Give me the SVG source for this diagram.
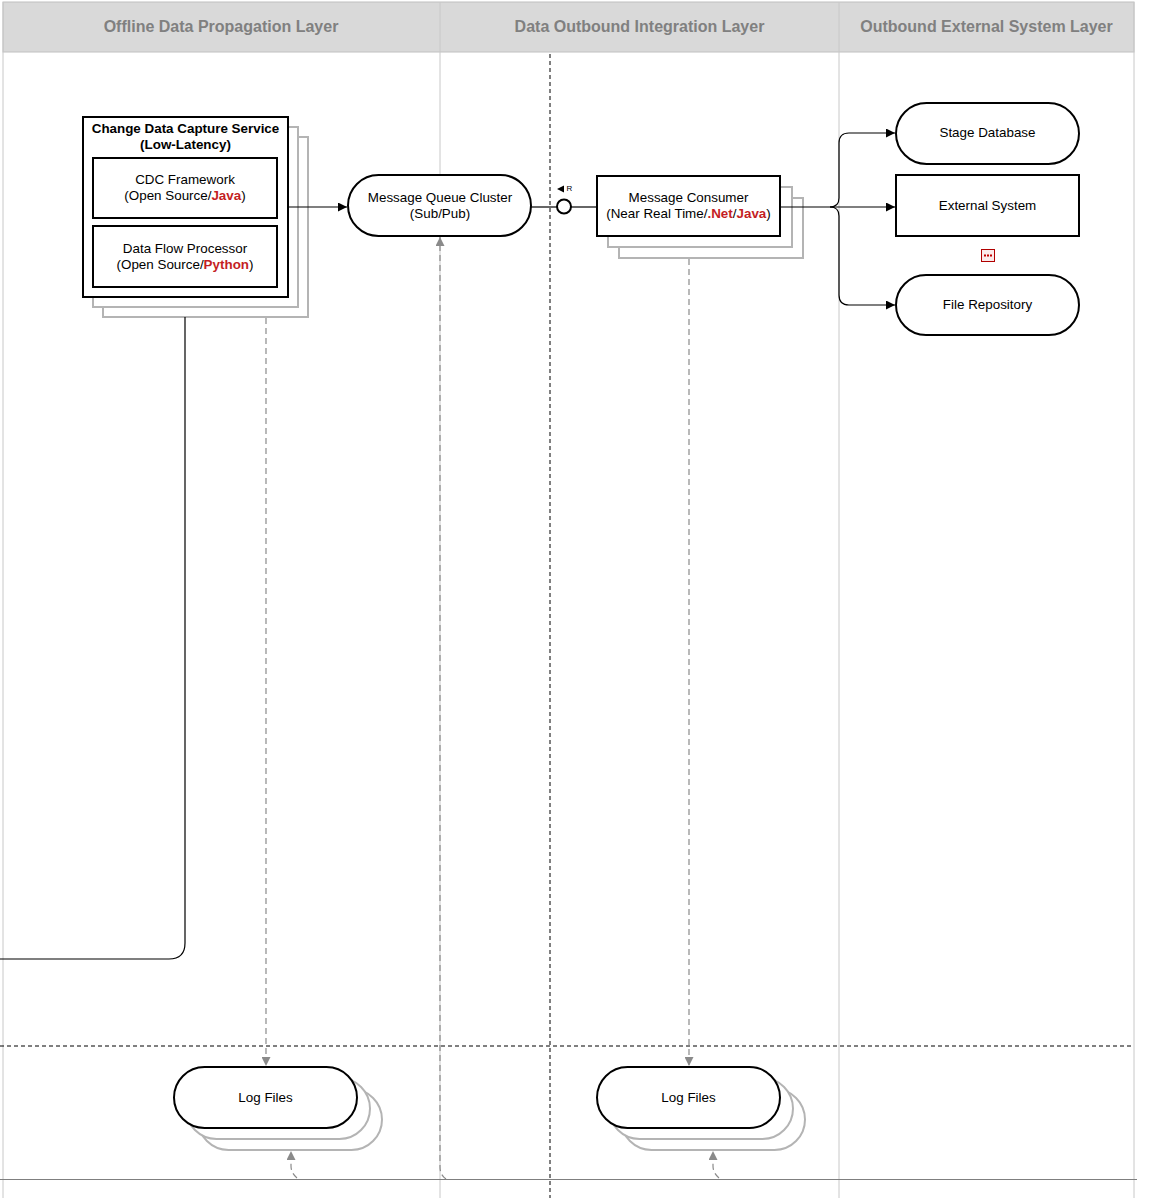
<svg xmlns="http://www.w3.org/2000/svg" width="1154" height="1198" viewBox="0 0 1154 1198">
<style>
text{font-family:"Liberation Sans",Arial,sans-serif;font-size:13.4px;fill:#000;text-anchor:middle}
.hd{font-size:16px;font-weight:bold;fill:#808080}
.b{font-weight:bold}
.red{fill:#c41e24;font-weight:bold}
.shape{fill:#fff;stroke:#000;stroke-width:2}
.shadow{fill:#fff;stroke:#b4b4b4;stroke-width:2}
.inner{fill:#fff;stroke:#000;stroke-width:2}
.lane{stroke:#c8c8c8;stroke-width:1;fill:none}
.conn{stroke:#000;stroke-width:1.2;fill:none}
.dash{stroke:#8a8a8a;stroke-width:1.2;fill:none;stroke-dasharray:6 4}
.bdash{stroke:#000;stroke-width:1;fill:none;stroke-dasharray:4 3}
</style>
<defs>
<marker id="ab" viewBox="0 0 10 10" refX="10" refY="5" markerWidth="9" markerHeight="9" markerUnits="userSpaceOnUse" orient="auto"><path d="M0,0 L10,5 L0,10 z" fill="#000"/></marker>
<marker id="ag" viewBox="0 0 10 10" refX="10" refY="5" markerWidth="9" markerHeight="9" markerUnits="userSpaceOnUse" orient="auto"><path d="M0,0 L10,5 L0,10 z" fill="#8a8a8a"/></marker>
</defs>
<rect x="0" y="0" width="1154" height="1198" fill="#fff"/>
<g id="lanes">
<rect x="3" y="2" width="1131" height="50" fill="#d9d9d9" stroke="#c0c0c0" stroke-width="1"/>
<line class="lane" x1="3" y1="2" x2="3" y2="1198"/>
<line class="lane" x1="440" y1="2" x2="440" y2="1198"/>
<line class="lane" x1="839" y1="2" x2="839" y2="1198"/>
<line class="lane" x1="1134" y1="2" x2="1134" y2="1198"/>
<text class="hd" x="221" y="31.5">Offline Data Propagation Layer</text>
<text class="hd" x="639.5" y="31.5">Data Outbound Integration Layer</text>
<text class="hd" x="986.5" y="31.5">Outbound External System Layer</text>
<line class="bdash" x1="550" y1="54" x2="550" y2="1198"/>
<line class="bdash" x1="0" y1="1046" x2="1132" y2="1046"/>
<line x1="0" y1="1179.5" x2="1137" y2="1179.5" stroke="#7f7f7f" stroke-width="1.2"/>
</g>
<g id="cdc-service">
<rect class="shadow" x="103" y="137" width="205" height="180"/>
<rect class="shadow" x="93" y="127" width="205" height="180"/>
<rect class="shape" x="83" y="117" width="205" height="180"/>
<text class="b" x="185.5" y="132.5">Change Data Capture Service</text>
<text class="b" x="185.5" y="148.5">(Low-Latency)</text>
</g>
<g id="cdc-framework">
<rect class="inner" x="93" y="158" width="184" height="60"/>
<text x="185" y="183.5">CDC Framework</text>
<text x="185" y="199.5">(Open Source/<tspan class="red">Java</tspan>)</text>
</g>
<g id="data-flow-processor">
<rect class="inner" x="93" y="226" width="184" height="61"/>
<text x="185" y="252.5">Data Flow Processor</text>
<text x="185" y="268.5">(Open Source/<tspan class="red">Python</tspan>)</text>
</g>
<g id="message-queue">
<rect class="shape" x="348" y="175" width="183" height="61" rx="30.5"/>
<text x="440" y="201.5">Message Queue Cluster</text>
<text x="440" y="217.5">(Sub/Pub)</text>
</g>
<g id="message-consumer">
<rect class="shadow" x="619" y="198" width="184" height="60"/>
<rect class="shadow" x="608" y="187" width="184" height="60"/>
<rect class="shape" x="597" y="176" width="183" height="60"/>
<text x="688.5" y="201.5">Message Consumer</text>
<text x="688.5" y="217.5">(Near Real Time/<tspan class="red">.Net</tspan>/<tspan class="red">Java</tspan>)</text>
</g>
<g id="stage-database">
<rect class="shape" x="896" y="103" width="183" height="61" rx="30.5"/>
<text x="987.5" y="136.5">Stage Database</text>
</g>
<g id="external-system">
<rect class="shape" x="896" y="175" width="183" height="61"/>
<text x="987.5" y="209.5">External System</text>
</g>
<g id="red-icon">
<rect x="981.5" y="249.5" width="13" height="12" fill="#fbeaea" stroke="#b00000" stroke-width="1"/>
<line x1="984" y1="255.5" x2="992" y2="255.5" stroke="#c00000" stroke-width="2" stroke-dasharray="2 1"/>
</g>
<g id="file-repository">
<rect class="shape" x="896" y="275" width="183" height="60" rx="30"/>
<text x="987.5" y="308.5">File Repository</text>
</g>
<g id="log-files-1">
<rect class="shadow" x="198" y="1089" width="184" height="61" rx="30.5"/>
<rect class="shadow" x="186" y="1078" width="184" height="61" rx="30.5"/>
<rect class="shape" x="174" y="1067" width="183" height="61" rx="30.5"/>
<text x="265.5" y="1101.5">Log Files</text>
</g>
<g id="log-files-2">
<rect class="shadow" x="621" y="1089" width="184" height="61" rx="30.5"/>
<rect class="shadow" x="609" y="1078" width="184" height="61" rx="30.5"/>
<rect class="shape" x="597" y="1067" width="183" height="61" rx="30.5"/>
<text x="688.5" y="1101.5">Log Files</text>
</g>
<g id="connectors">
<path class="conn" d="M185,317 L185,943 Q185,959 169,959 L0,959"/>
<path class="dash" d="M266,318 L266,1066" marker-end="url(#ag)"/>
<path class="dash" d="M689,259 L689,1066" marker-end="url(#ag)"/>
<path class="dash" d="M446,1179 Q440,1175 440,1167 L440,237" marker-end="url(#ag)"/>
<path class="dash" d="M297,1178 Q291,1173 291,1166 L291,1151" marker-end="url(#ag)"/>
<path class="dash" d="M719,1178 Q713,1173 713,1166 L713,1151" marker-end="url(#ag)"/>
<path class="conn" d="M289,207 L347,207" marker-end="url(#ab)"/>
<path class="conn" d="M531,207 L557,207"/>
<circle cx="564" cy="206.5" r="7" fill="#fff" stroke="#000" stroke-width="2"/>
<path class="conn" d="M571,207 L596,207"/>
<polygon points="557,189 564,185.5 564,192.5" fill="#000"/>
<text x="569.5" y="191" style="font-size:8px">R</text>
<path class="conn" d="M781,207 L895,207" marker-end="url(#ab)"/>
<path class="conn" d="M830,207 Q839,207 839,198 L839,143 Q839,133 849,133 L895,133" marker-end="url(#ab)"/>
<path class="conn" d="M830,207 Q839,207 839,216 L839,295 Q839,305 849,305 L895,305" marker-end="url(#ab)"/>
</g>
</svg>
